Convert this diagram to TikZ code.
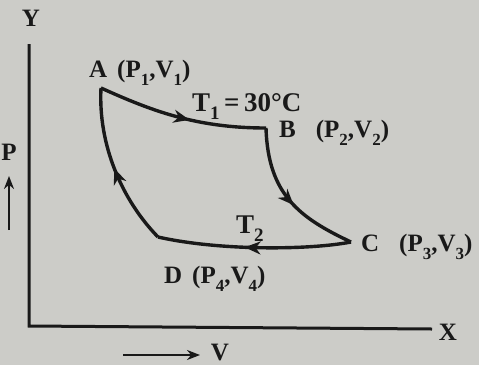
\documentclass[tikz,border=0pt]{standalone}
\usepackage{fontspec}
\setmainfont{Liberation Serif}
\usetikzlibrary{decorations.markings,arrows.meta}
\definecolor{paper}{RGB}{204,204,200}
\definecolor{ink}{RGB}{25,25,25}
\newcommand{\sbs}[1]{\raisebox{-0.33em}{\fontsize{17}{17}\selectfont #1}}
\newcommand{\sbt}[1]{\raisebox{-0.3em}{\fontsize{19}{19}\selectfont #1}}
\newcommand{\gap}{\hspace{0.4em}}
\tikzset{
  curveline/.style={draw=ink,line width=3.4pt,line join=miter},
  midarrow/.style={postaction={decorate},decoration={markings,
     mark=at position #1 with {\arrow{Stealth[length=16pt,width=13pt,inset=5pt]}}}},
  axis/.style={draw=ink,line width=3pt},
  lbl/.style={text=ink,font=\fontsize{25}{28}\selectfont\bfseries,inner sep=0pt},
  tlbl/.style={text=ink,font=\fontsize{27}{30}\selectfont\bfseries,inner sep=0pt},
}
\begin{document}
\begin{tikzpicture}[x=1pt,y=-1pt]
\fill[paper] (0,0) rectangle (479,365);
\useasboundingbox (0,0) rectangle (479,365);
% axes
\coordinate (O) at (29,326);
\coordinate (Ytop) at (29,44);
\coordinate (Xend) at (432,329);
\draw[axis] (Ytop) -- (O) -- (Xend);
\node[lbl] (Y) at (31,18) {Y};
\node[lbl] (X) at (448,332) {X};
\node[lbl] (P) at (9,152) {P};
\coordinate (Pa0) at (9,230);
\coordinate (Pa1) at (9,176);
\draw[draw=ink,line width=2.6pt,-{Stealth[length=13pt,width=10pt]}] (Pa0) -- (Pa1);
\coordinate (Va0) at (123,355);
\coordinate (Va1) at (200,355);
\draw[draw=ink,line width=2.6pt,-{Stealth[length=13pt,width=10pt]}] (Va0) -- (Va1);
\node[lbl] (V) at (220,352) {V};
% cycle corners
\coordinate (A) at (101,88);
\coordinate (B) at (266,128);
\coordinate (C) at (351,242);
\coordinate (D) at (158,237);
\draw[curveline,midarrow=0.55] (A) .. controls (150,110) and (195,128) .. (B);
\draw[curveline,midarrow=0.55] (B) .. controls (268,195) and (300,218) .. (C);
\draw[curveline,midarrow=0.55] (C) .. controls (310,250) and (220,251) .. (D);
\draw[curveline,midarrow=0.5] (D) .. controls (122,200) and (98,145) .. (A);
% labels
\node[lbl,anchor=base west] (LA) at (89,77) {A\gap(P\sbs{1},V\sbs{1})};
\node[tlbl,anchor=base west] (T1) at (192,111) {T\sbt{1}\,=\,30°C};
\node[lbl,anchor=base west] (LB) at (279,137) {B\gap\gap(P\sbs{2},V\sbs{2})};
\node[tlbl,anchor=base west] (T2) at (236,233) {T\sbt{2}};
\node[lbl,anchor=base west] (LC) at (361,251) {C\gap\gap(P\sbs{3},V\sbs{3})};
\node[lbl,anchor=base west] (LD) at (164,283) {D\gap(P\sbs{4},V\sbs{4})};
\end{tikzpicture}
\end{document}
